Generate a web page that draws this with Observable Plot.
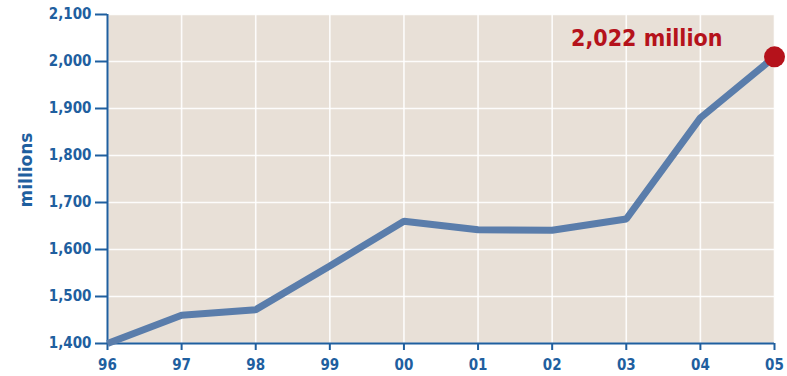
<!DOCTYPE html>
<html><head><meta charset="utf-8">
<script src="https://cdn.jsdelivr.net/npm/d3@7"></script>
<script src="https://cdn.jsdelivr.net/npm/@observablehq/plot@0.6"></script>
<style>
body{margin:0;background:#fff;}
#chart svg{display:block;}
</style>
</head><body><div id="chart"></div>
<script>
const years = [1996,1997,1998,1999,2000,2001,2002,2003,2004,2005];
const yearLabels = ["96","97","98","99","00","01","02","03","04","05"];
const values = [1400,1460,1472,1565,1660,1642,1641,1665,1880,2010];
const yTicks = [1400,1500,1600,1700,1800,1900,2000,2100];
const calloutText = "2,022 million";

const data = years.map((y,i)=>({year:y, value:values[i]}));
const last = data[data.length-1];
const axisColor = "#1f5f9f";
const font = "'DejaVu Sans Condensed', 'DejaVu Sans', sans-serif";

const chart = Plot.plot({
  width:787, height:376,
  marginLeft:107, marginTop:14, marginRight:13, marginBottom:33,
  style:{fontFamily:font, fontWeight:"bold", fontSize:"15px", color:axisColor, background:"#fff"},
  x:{domain:[1996,2005], ticks:years, tickFormat:(d)=>yearLabels[years.indexOf(d)]},
  y:{domain:[1400,2100], ticks:yTicks, tickFormat:d3.format(",")},
  marks:[
    Plot.frame({fill:"#e8e0d7", stroke:null}),
    Plot.gridX(years, {stroke:"#fff", strokeOpacity:0.9, strokeWidth:1.6}),
    Plot.gridY(yTicks, {stroke:"#fff", strokeOpacity:0.9, strokeWidth:1.6}),
    Plot.axisX({ticks:years, tickFormat:(d)=>yearLabels[years.indexOf(d)], tickSize:7, tickPadding:9, stroke:axisColor, strokeWidth:2, fill:axisColor, fontSize:15, label:null}),
    Plot.axisY({ticks:yTicks, tickFormat:d3.format(","), tickSize:12, tickPadding:4, stroke:axisColor, strokeWidth:2, fill:axisColor, fontSize:15, label:null}),
    Plot.ruleX([1996], {stroke:axisColor, strokeWidth:2}),
    Plot.ruleY([1400], {stroke:axisColor, strokeWidth:2}),
    Plot.line(data, {x:"year", y:"value", stroke:"#5a7dab", strokeWidth:7, strokeLinejoin:"miter", strokeLinecap:"butt"}),
    Plot.dot([last], {x:"year", y:"value", r:10.5, fill:"#b5121b", stroke:null}),
    Plot.text([last], {x:"year", y:"value", text:()=>calloutText, dx:-52, dy:-11, lineAnchor:"bottom", textAnchor:"end", fill:"#b5121b", fontSize:23, fontWeight:"bold"})
  ]
});
document.getElementById("chart").appendChild(chart);

// y-axis title
const svg = d3.select(chart);
svg.append("text")
  .attr("transform","translate(32,170) rotate(-90)")
  .attr("text-anchor","middle")
  .attr("fill",axisColor)
  .attr("font-family","'DejaVu Sans', sans-serif")
  .attr("font-weight","bold")
  .attr("font-size",17)
  .text("millions");
</script>
</body></html>
